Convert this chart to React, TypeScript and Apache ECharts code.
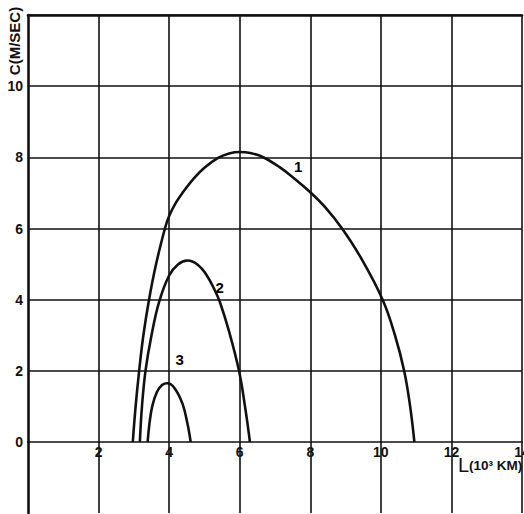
import React, { useEffect, useRef } from 'react';
import * as echarts from 'echarts';

const xRange = [0, 14];
const yUpperRange = [0, 12];
const yLowerRange = [-2, 0];
const tickStep = 2;

const curve1: [number, number][] = [
  [2.97, 0], [3.05, 1], [3.15, 2], [3.27, 3], [3.43, 4], [3.63, 5], [3.88, 6.0],
  [4.0, 6.35], [4.2, 6.74], [4.4, 7.03], [4.7, 7.41], [5.0, 7.71], [5.4, 7.99],
  [5.7, 8.11], [6.0, 8.15], [6.3, 8.12], [6.65, 8.01], [7.12, 7.73], [7.58, 7.38],
  [8.0, 7.02], [8.42, 6.6], [8.9, 6.0], [9.42, 5.2], [10.05, 4.0], [10.4, 3.0],
  [10.66, 2.0], [10.83, 1.0], [10.95, 0],
];
const curve2: [number, number][] = [
  [3.17, 0], [3.23, 1], [3.33, 2], [3.5, 3], [3.72, 3.95], [4.0, 4.68], [4.25, 4.99],
  [4.52, 5.1], [4.8, 4.99], [5.05, 4.71], [5.3, 4.25], [5.45, 3.9], [5.7, 3.1],
  [5.98, 2.0], [6.15, 1.0], [6.29, 0],
];
const curve3: [number, number][] = [
  [3.39, 0], [3.44, 0.5], [3.52, 1.0], [3.65, 1.4], [3.8, 1.6], [3.95, 1.65],
  [4.15, 1.52], [4.38, 1.07], [4.52, 0.51], [4.61, 0],
];
const curveLabels = [
  { name: '1', value: [7.66, 7.74] },
  { name: '2', value: [5.43, 4.33] },
  { name: '3', value: [4.3, 2.33] },
];
const yAxisTitle = 'C(M/SEC)';
const xAxisTitleMain = 'L';
const xAxisTitleUnit = '(10³ KM)';

export default function App() {
  const ref = useRef<HTMLDivElement>(null);
  useEffect(() => {
    const chart = echarts.init(ref.current!, null, { renderer: 'svg' });
    const font = '"Liberation Sans", Arial, sans-serif';
    const ink = '#111';
    const gridLine = { color: ink, width: 1.6 };
    const border = { color: ink, width: 2.6 };
    const curveStyle = { color: ink, width: 2.6 };
    const labelBase = { color: ink, fontFamily: font, fontWeight: 'bold' as const, fontSize: 14 };
    const off = { show: false };
    chart.setOption({
      animation: false,
      backgroundColor: '#ffffff',
      grid: [
        { left: 28, right: 2, top: 15, bottom: 72, containLabel: false, outerBoundsMode: 'none' },
        { left: 28, right: 2, top: 442, bottom: 1, containLabel: false, outerBoundsMode: 'none' },
      ],
      xAxis: [
        {
          gridIndex: 0, type: 'value', position: 'bottom', min: xRange[0], max: xRange[1], interval: tickStep,
          axisLine: { show: true, onZero: false, lineStyle: gridLine },
          axisTick: off,
          axisLabel: {
            ...labelBase, margin: 3, showMinLabel: false,
            formatter: (v: number) => (v === 0 ? '' : String(v)),
          },
          splitLine: { show: true, showMinLine: false, lineStyle: gridLine },
        },
        {
          gridIndex: 0, type: 'value', position: 'top', min: xRange[0], max: xRange[1], interval: tickStep,
          axisLine: { show: true, onZero: false, lineStyle: border },
          axisTick: off, axisLabel: off, splitLine: off,
        },
        {
          gridIndex: 1, type: 'value', position: 'bottom', min: xRange[0], max: xRange[1], interval: tickStep,
          axisLine: { show: false, onZero: false }, axisTick: off, axisLabel: off,
          splitLine: { show: true, showMinLine: false, lineStyle: gridLine },
        },
      ],
      yAxis: [
        {
          gridIndex: 0, type: 'value', min: yUpperRange[0], max: yUpperRange[1], interval: tickStep,
          axisLine: { show: true, onZero: false, lineStyle: border },
          axisTick: off,
          axisLabel: {
            ...labelBase, margin: 5, showMaxLabel: false,
            formatter: (v: number) => (v > 10 ? '' : String(v)),
          },
          splitLine: { show: true, showMinLine: false, lineStyle: gridLine },
        },
        {
          gridIndex: 1, type: 'value', min: yLowerRange[0], max: yLowerRange[1], interval: tickStep,
          axisLine: { show: true, onZero: false, lineStyle: border },
          axisTick: off, axisLabel: off, splitLine: off,
        },
      ],
      series: [
        { type: 'line', xAxisIndex: 0, yAxisIndex: 0, data: curve1, smooth: 0.4, showSymbol: false, lineStyle: curveStyle },
        { type: 'line', xAxisIndex: 0, yAxisIndex: 0, data: curve2, smooth: 0.4, showSymbol: false, lineStyle: curveStyle },
        { type: 'line', xAxisIndex: 0, yAxisIndex: 0, data: curve3, smooth: 0.4, showSymbol: false, lineStyle: curveStyle },
        {
          type: 'scatter', xAxisIndex: 0, yAxisIndex: 0, data: curveLabels, symbolSize: 1,
          itemStyle: { color: 'rgba(0,0,0,0)' },
          label: {
            show: true, position: 'inside', formatter: '{b}', ...labelBase, color: '#000',
            fontSize: 15, textBorderWidth: 0, opacity: 1,
          },
        },
      ],
      graphic: [
        {
          type: 'text', x: 14, y: 41, rotation: Math.PI / 2,
          style: {
            text: yAxisTitle, fill: ink, font: 'bold 15px "Liberation Sans", Arial, sans-serif',
            align: 'center', verticalAlign: 'middle',
          },
        },
        {
          type: 'text', x: 458, y: 465,
          style: {
            text: `{m|${xAxisTitleMain}}{u|${xAxisTitleUnit}}`,
            align: 'left', verticalAlign: 'middle',
            rich: {
              m: { fontSize: 20, fontFamily: font, fill: ink },
              u: { fontSize: 13.5, fontWeight: 'bold', fontFamily: font, fill: ink },
            },
          },
        },
      ],
    });
    return () => chart.dispose();
  }, []);
  return (
    <div
      ref={ref}
      style={{ position: 'fixed', left: 0, top: 0, width: 524, height: 514, background: '#fff' }}
    />
  );
}
